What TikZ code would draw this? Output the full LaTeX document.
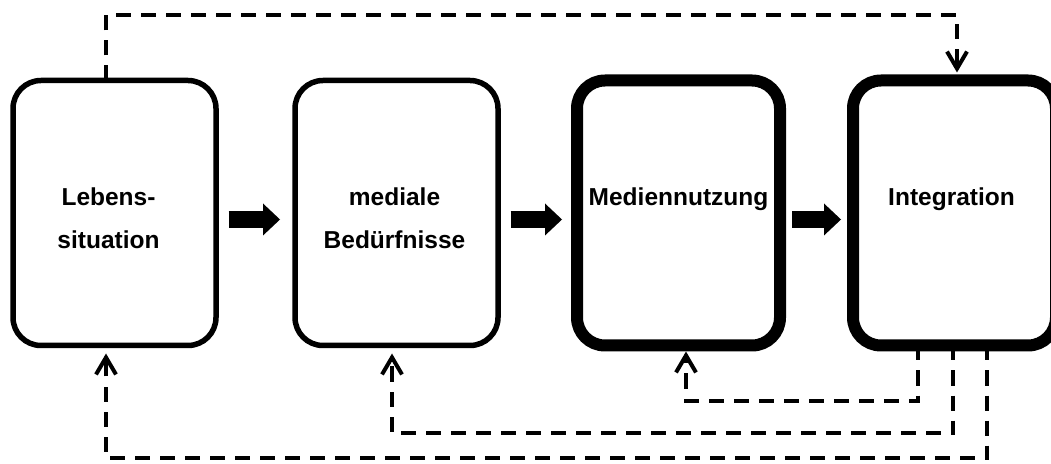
\documentclass[tikz,border=0pt]{standalone}
\usepackage{fontspec}
\setmainfont{Liberation Sans}
\usetikzlibrary{arrows.meta}

\tikzset{
  box/.style={draw=black, line width=5.5pt, rounded corners=28pt, outer sep=0pt,
    inner sep=0pt, minimum width=203pt, minimum height=265pt},
  heavybox/.style={box, line width=12pt},
  boxtext/.style={anchor=north, inner sep=0pt, align=center,
    font=\fontsize{24.5}{43}\selectfont\bfseries},
  flow/.style={line width=17pt, shorten <=12.5pt, shorten >=15pt,
    -{Triangle[length=17pt, width=32pt, line width=0pt]}},
  feedback/.style={line width=4pt, dash pattern=on 15pt off 10pt,
    -{Straight Barb[length=17pt, width=20pt]}}
}

\begin{document}
\begin{tikzpicture}[x=1pt, y=1pt]

  \useasboundingbox (0,0) rectangle (1051,463);

  % the four boxes
  \node[box]      (b1) at (114.5,250) {};
  \node[box]      (b2) at (396.5,250) {};
  \node[heavybox] (b3) at (678.5,250) {};
  \node[heavybox] (b4) at (954.5,250) {};

  \node[boxtext] (t1) at ([xshift=-6,yshift=-107]b1.north) {Lebens-\\situation};
  \node[boxtext] (t2) at ([xshift=-2,yshift=-107]b2.north) {mediale\\Bedürfnisse};
  \node[boxtext] (t3) at ([yshift=-107]b3.north) {Mediennutzung};
  \node[boxtext] (t4) at ([xshift=-3,yshift=-107]b4.north) {Integration};

  % block arrows between the boxes
  \draw[flow] ([yshift=-6.5]b1.east) -- ([yshift=-6.5]b2.west);
  \draw[flow] ([yshift=-6.5]b2.east) -- ([yshift=-6.5]b3.west);
  \draw[flow, shorten <=12pt, shorten >=12pt] ([yshift=-6.5]b3.east) -- ([yshift=-6.5]b4.west);

  % dashed feedback lines
  \draw[feedback, shorten >=8pt] ([xshift=-8.5]b1.north) -- ++(0,65) -| ([xshift=2.5]b4.north);
  \draw[feedback, shorten >=8pt] ([xshift=32.5]b4.south) -- ++(0,-112.5) -| ([xshift=-8.5]b1.south);
  \draw[feedback, shorten >=8pt] ([xshift=-1.5]b4.south) -- ++(0,-87.5) -| ([xshift=-4.5]b2.south);
  \draw[feedback, shorten >=6pt] ([xshift=-36.5]b4.south) -- ++(0,-55.5) -| ([xshift=7.5]b3.south);

\end{tikzpicture}
\end{document}
